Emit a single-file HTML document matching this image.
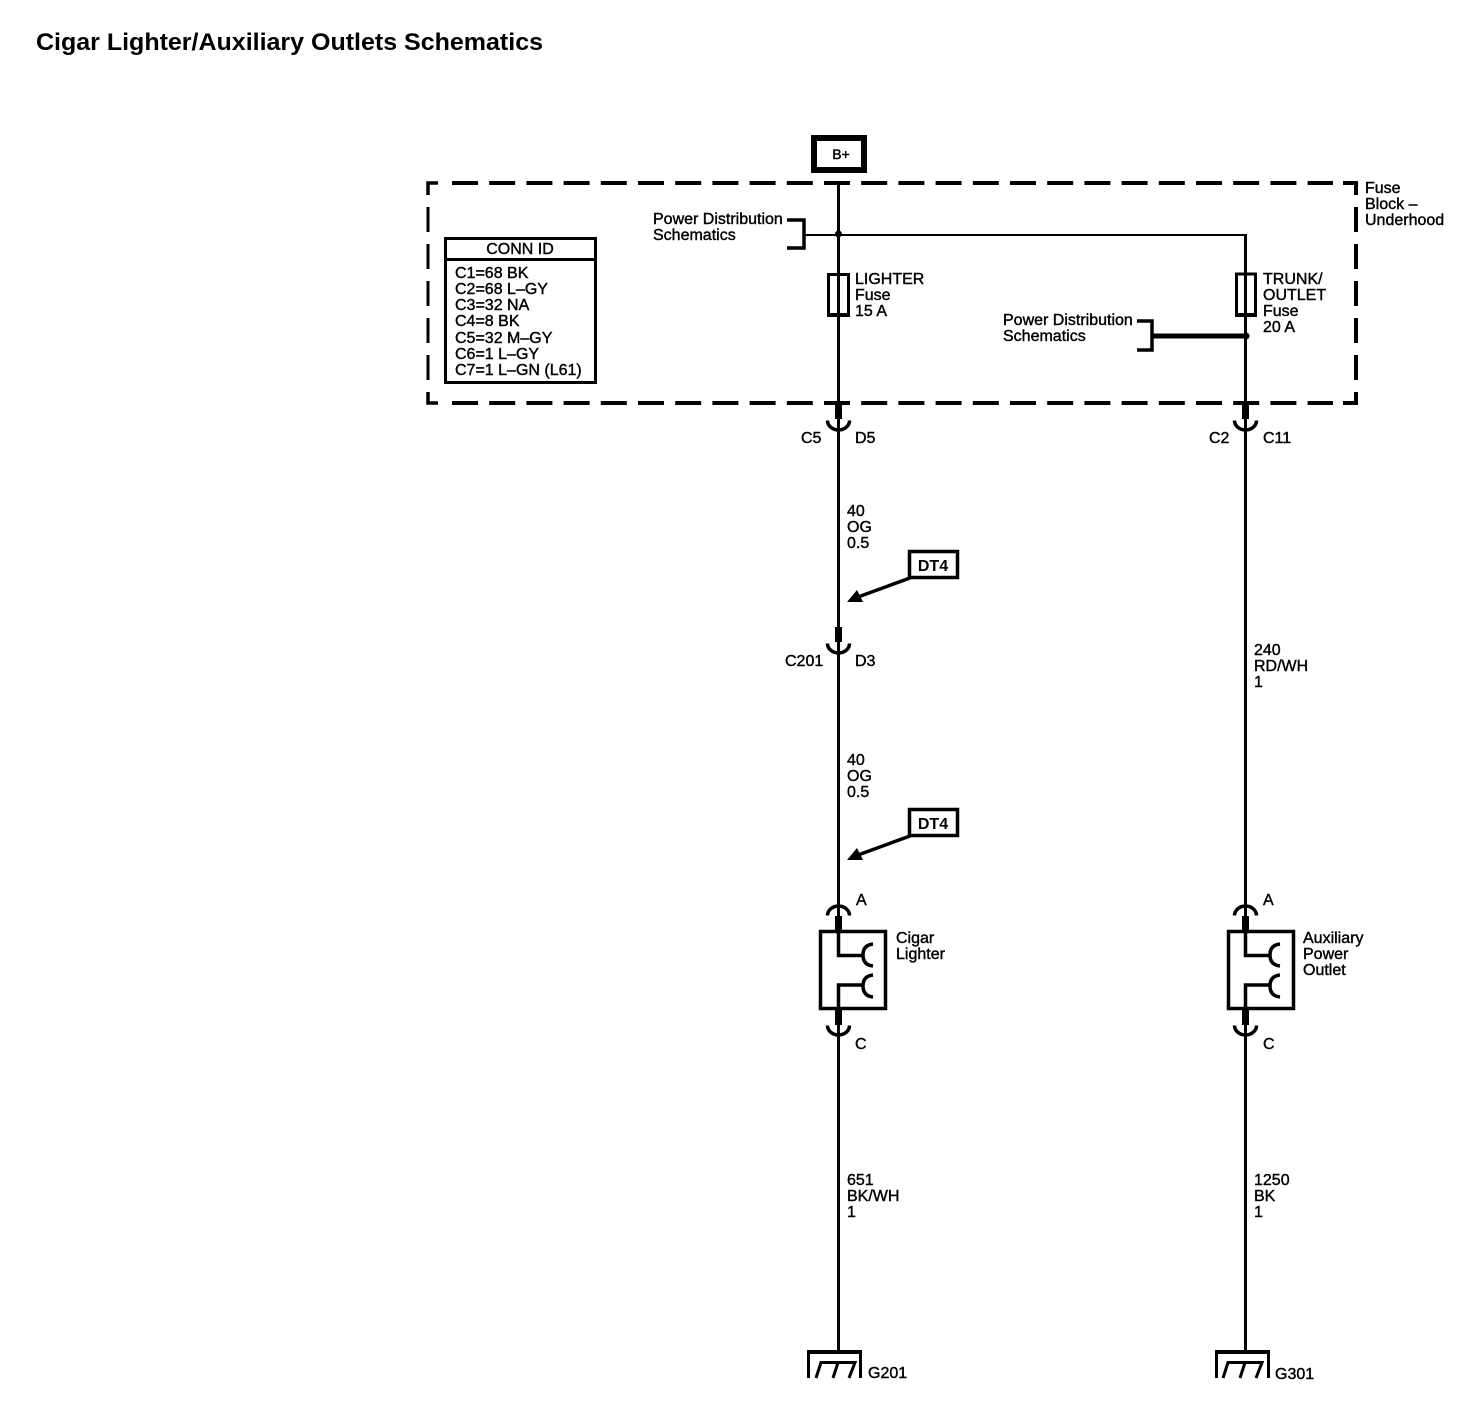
<!DOCTYPE html>
<html>
<head>
<meta charset="utf-8">
<style>
html,body{margin:0;padding:0;background:#fff;width:1464px;height:1408px;overflow:hidden}
svg{display:block}
text{font-family:"Liberation Sans",sans-serif;font-size:16px;fill:#000;stroke:#000;stroke-width:.4}
.b{font-weight:bold;stroke:none}
</style>
</head>
<body>
<svg width="1464" height="1408" viewBox="0 0 1464 1408" xmlns="http://www.w3.org/2000/svg">
<rect width="1464" height="1408" fill="#fff"/>
<text x="36" y="50" class="b" style="font-size:24px" textLength="507" lengthAdjust="spacingAndGlyphs">Cigar Lighter/Auxiliary Outlets Schematics</text>

<!-- dashed fuse block -->
<g fill="none" stroke="#000" stroke-width="4">
<line x1="452" y1="183" x2="1333" y2="183" stroke-dasharray="26 11.2"/>
<line x1="452" y1="403" x2="1333" y2="403" stroke-dasharray="26 11.2"/>
<path d="M1343 183H1356V195"/>
<path d="M1343 403H1356V392"/>
<line x1="1356" y1="207" x2="1356" y2="381" stroke-dasharray="25 12"/>
</g>
<g fill="none" stroke="#000" stroke-width="3">
<path d="M438 183H428V195" stroke-width="3.5"/>
<path d="M428 392V403H438" stroke-width="3.5"/>
<line x1="428" y1="207" x2="428" y2="381" stroke-dasharray="25 12"/>
</g>

<!-- B+ -->
<rect x="814" y="138" width="50" height="32" fill="#fff" stroke="#000" stroke-width="6"/>
<text x="841" y="159" text-anchor="middle" style="font-size:14px">B+</text>

<!-- wires -->
<g stroke="#000" fill="none">
<line x1="838.5" y1="183" x2="838.5" y2="1352" stroke-width="3"/>
<line x1="1245.5" y1="235" x2="1245.5" y2="1352" stroke-width="3"/>
<line x1="804" y1="235" x2="1247" y2="235" stroke-width="2"/>
<path d="M787 220H804V248H787" stroke-width="3.5"/>
<path d="M1137 321H1152V350H1137" stroke-width="3.5"/>
<line x1="1152" y1="336" x2="1246" y2="336" stroke-width="5"/>
</g>
<circle cx="838.5" cy="234" r="3.5"/>
<circle cx="1246" cy="336" r="3.5"/>

<!-- fuses -->
<g fill="none" stroke="#000" stroke-width="3">
<rect x="828.5" y="274.5" width="20" height="41"/>
<rect x="1236.5" y="274" width="19" height="41.5"/>
</g>
<rect x="827" y="313" width="23" height="4"/>
<rect x="1235" y="313" width="22" height="4"/>

<!-- top connectors -->
<g stroke="#000" fill="none" stroke-width="3.5">
<path d="M827.5 420.5A11 9.5 0 0 0 849.5 420.5"/>
<path d="M1234.5 420.5A11 9.5 0 0 0 1256.5 420.5"/>
<path d="M827.5 643.5A11 9.5 0 0 0 849.5 643.5"/>
</g>
<rect x="835" y="401" width="7" height="18"/>
<rect x="1242" y="401" width="7" height="18"/>
<rect x="835" y="627" width="7" height="15"/>

<!-- DT4 -->
<g>
<rect x="909.5" y="551.5" width="48" height="26" fill="#fff" stroke="#000" stroke-width="3.5"/>
<text x="933" y="571" text-anchor="middle" class="b">DT4</text>
<line x1="910" y1="578" x2="858" y2="597" stroke="#000" stroke-width="3.5"/>
<path d="M847 602L857 590L863 602Z"/>
<rect x="909.5" y="809.5" width="48" height="26" fill="#fff" stroke="#000" stroke-width="3.5"/>
<text x="933" y="829" text-anchor="middle" class="b">DT4</text>
<line x1="910" y1="836" x2="858" y2="855" stroke="#000" stroke-width="3.5"/>
<path d="M847 860L857 848L863 860Z"/>
</g>

<!-- Cigar lighter -->
<g>
<g fill="none" stroke="#000" stroke-width="3.5">
<path d="M827.5 915.5A11 9.5 0 0 1 849.5 915.5"/>
<path d="M827.5 1025.5A11 9.5 0 0 0 849.5 1025.5"/>
<rect x="820.5" y="931.5" width="65" height="77" fill="#fff"/>
<path d="M838.5 931V955.5H863"/>
<path d="M838.5 1008V985H863"/>
<path d="M873 944Q863 945 863 955Q863 965 873 966"/>
<path d="M873 975Q863 976 863 986Q863 996 873 997"/>
</g>
<rect x="835" y="916" width="7" height="15"/>
<rect x="835" y="1009" width="7" height="16"/>
</g>
<g transform="translate(407 0)">
<g fill="none" stroke="#000" stroke-width="3.5">
<path d="M827.5 915.5A11 9.5 0 0 1 849.5 915.5"/>
<path d="M827.5 1025.5A11 9.5 0 0 0 849.5 1025.5"/>
<rect x="821.5" y="931.5" width="65" height="77" fill="#fff"/>
<path d="M838.5 931V955.5H863"/>
<path d="M838.5 1008V985H863"/>
<path d="M873 944Q863 945 863 955Q863 965 873 966"/>
<path d="M873 975Q863 976 863 986Q863 996 873 997"/>
</g>
<rect x="835" y="916" width="7" height="15"/>
<rect x="835" y="1009" width="7" height="16"/>
</g>

<!-- grounds -->
<g fill="none" stroke="#000">
<path d="M808.5 1378V1352H860.5V1378" stroke-width="3"/>
<line x1="807" y1="1352" x2="862" y2="1352" stroke-width="4"/>
<path d="M816 1378L821 1362.5H855L849 1378M838 1362.5L833 1378" stroke-width="3"/>
<path d="M1216.5 1378V1352H1268.5V1378" stroke-width="3"/>
<line x1="1215" y1="1352" x2="1270" y2="1352" stroke-width="4"/>
<path d="M1223 1378L1228 1362.5H1262L1256 1378M1245 1362.5L1240 1378" stroke-width="3"/>
</g>

<!-- CONN ID -->
<rect x="445.5" y="238.5" width="150" height="144" fill="#fff" stroke="#000" stroke-width="3"/>
<line x1="445" y1="259.5" x2="596" y2="259.5" stroke="#000" stroke-width="3"/>
<text x="520" y="254" text-anchor="middle">CONN ID</text>
<text x="455" y="278">C1=68 BK</text>
<text x="455" y="294">C2=68 L–GY</text>
<text x="455" y="310">C3=32 NA</text>
<text x="455" y="326">C4=8 BK</text>
<text x="455" y="343">C5=32 M–GY</text>
<text x="455" y="359">C6=1 L–GY</text>
<text x="455" y="375">C7=1 L–GN (L61)</text>

<!-- labels -->
<text x="653" y="224">Power Distribution</text>
<text x="653" y="240">Schematics</text>
<text x="1003" y="325">Power Distribution</text>
<text x="1003" y="341">Schematics</text>
<text x="855" y="284">LIGHTER</text>
<text x="855" y="300">Fuse</text>
<text x="855" y="316">15 A</text>
<text x="1263" y="284">TRUNK/</text>
<text x="1263" y="300">OUTLET</text>
<text x="1263" y="316">Fuse</text>
<text x="1263" y="332">20 A</text>
<text x="1365" y="193">Fuse</text>
<text x="1365" y="209">Block –</text>
<text x="1365" y="225">Underhood</text>
<text x="801" y="443">C5</text>
<text x="855" y="443">D5</text>
<text x="1209" y="443">C2</text>
<text x="1263" y="443">C11</text>
<text x="847" y="516">40</text>
<text x="847" y="532">OG</text>
<text x="847" y="548">0.5</text>
<text x="785" y="666">C201</text>
<text x="855" y="666">D3</text>
<text x="847" y="765">40</text>
<text x="847" y="781">OG</text>
<text x="847" y="797">0.5</text>
<text x="1254" y="655">240</text>
<text x="1254" y="671">RD/WH</text>
<text x="1254" y="687">1</text>
<text x="856" y="905">A</text>
<text x="855" y="1049">C</text>
<text x="1263" y="905">A</text>
<text x="1263" y="1049">C</text>
<text x="896" y="943">Cigar</text>
<text x="896" y="959">Lighter</text>
<text x="1303" y="943">Auxiliary</text>
<text x="1303" y="959">Power</text>
<text x="1303" y="975">Outlet</text>
<text x="847" y="1185">651</text>
<text x="847" y="1201">BK/WH</text>
<text x="847" y="1217">1</text>
<text x="1254" y="1185">1250</text>
<text x="1254" y="1201">BK</text>
<text x="1254" y="1217">1</text>
<text x="868" y="1378">G201</text>
<text x="1275" y="1379">G301</text>
</svg>
</body>
</html>
